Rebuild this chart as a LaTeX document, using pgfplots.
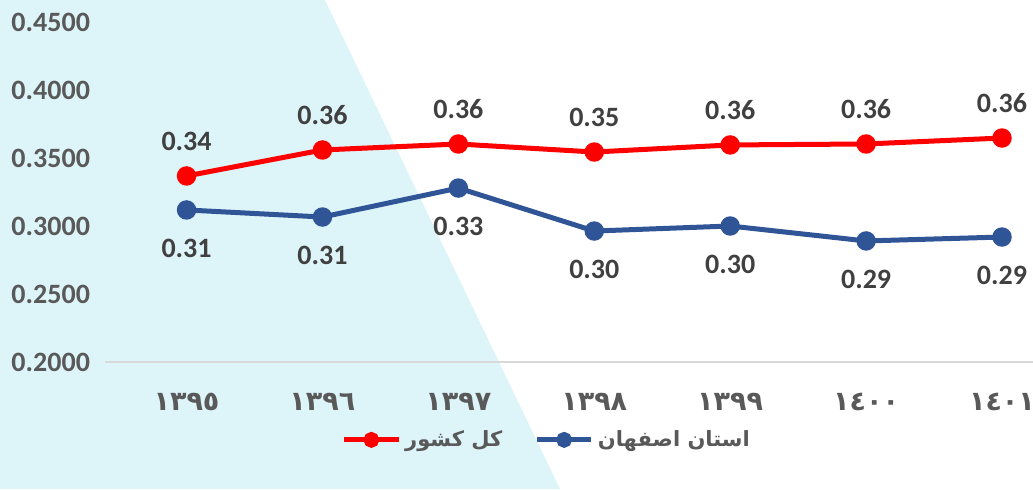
\documentclass[border=0pt]{standalone}
\usepackage{pgfplots}
\pgfplotsset{compat=1.18}
\usepackage{fontspec}
\setmainfont{Carlito}
\newfontfamily\arabicfont[Script=Arabic]{DejaVu Sans}
\TeXXeTstate=1
\definecolor{bgblue}{HTML}{DDF4F9}
\definecolor{serred}{HTML}{FF0000}
\definecolor{serblue}{HTML}{2F5597}
\definecolor{tickgray}{HTML}{595959}
\definecolor{lblgray}{HTML}{404040}
\begin{document}
\begin{tikzpicture}
\useasboundingbox (0,0) rectangle (516.5pt,244.5pt);
\fill[bgblue] (0,244.5pt) -- (162.5pt,244.5pt) -- (280pt,0) -- (0,0) -- cycle;
\begin{axis}[
    at={(52.5pt,63.5pt)}, anchor=south west,
    scale only axis,
    width=464pt, height=170pt,
    xmin=-0.6, xmax=6.228,
    ymin=0.2, ymax=0.45,
    ytick={0.2,0.25,0.3,0.35,0.4,0.45},
    xtick={0,1,2,3,4,5,6},
    xticklabels={{\arabicfont ١٣٩٥},{\arabicfont ١٣٩٦},{\arabicfont ١٣٩٧},{\arabicfont ١٣٩٨},{\arabicfont ١٣٩٩},{\arabicfont ١٤٠٠},{\arabicfont ١٤٠١}},
    axis x line*=bottom, axis y line*=left,
    x axis line style={draw=black!15, line width=1pt, -},
    y axis line style={draw=none},
    major tick length=0pt,
    clip=false,
    /pgf/number format/assume math mode=true,
    ticklabel style={font=\bfseries\fontsize{14}{16}\selectfont, text=tickgray},
    yticklabel style={/pgf/number format/fixed, /pgf/number format/precision=4, /pgf/number format/fixed zerofill, xshift=-4pt},
    xticklabel style={font=\bfseries\fontsize{13.5}{15}\selectfont, yshift=-12pt},
    nodes near coords,
    every node near coord/.append style={font=\bfseries\fontsize{14}{16}\selectfont, text=lblgray, anchor=center,
        /pgf/number format/fixed, /pgf/number format/precision=2, /pgf/number format/fixed zerofill, /pgf/number format/assume math mode=true},
    legend columns=2,
    legend style={at={(0.477,-0.229)}, anchor=center, draw=none, fill=none,
        font=\arabicfont\bfseries\fontsize{10.5}{12}\selectfont, text=tickgray,
        /tikz/every even column/.append style={column sep=14pt}},
    legend image code/.code={\draw[mark repeat=2,mark phase=2,#1,mark size=2.7pt] plot coordinates {(0cm,0cm) (0.48cm,0cm) (0.96cm,0cm)};},
]
\addplot[serred, line width=2.5pt, mark=*, mark size=3.6pt,
    every node near coord/.append style={yshift=17.5pt}] coordinates {
    (0, 0.3368) (1, 0.3559) (2, 0.3603) (3, 0.3544) (4, 0.3596) (5, 0.3603) (6, 0.3647)
};
\addlegendentry{\beginR کل کشور\endR}
\addplot[serblue, line width=2.5pt, mark=*, mark size=3.6pt,
    every node near coord/.append style={yshift=-19pt}] coordinates {
    (0, 0.3118) (1, 0.3066) (2, 0.3279) (3, 0.2963) (4, 0.3000) (5, 0.2890) (6, 0.2919)
};
\addlegendentry{\beginR استان اصفهان\endR}
\end{axis}
\end{tikzpicture}
\end{document}
